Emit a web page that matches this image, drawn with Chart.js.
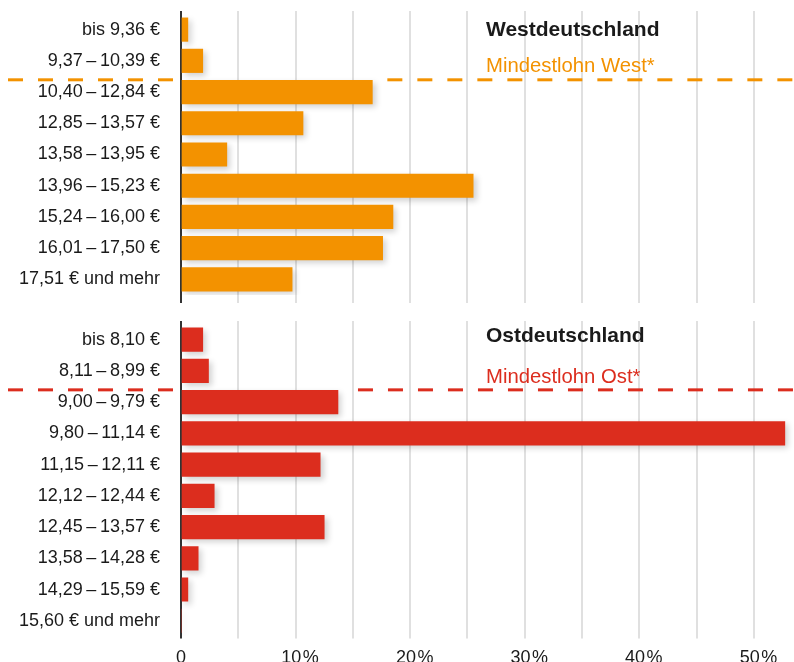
<!DOCTYPE html>
<html>
<head>
<meta charset="utf-8">
<script src="https://cdn.jsdelivr.net/npm/chart.js@4"></script>
<style>
  html, body { margin: 0; padding: 0; background: #fff; overflow: hidden; }
  #wrap { position: relative; width: 794px; height: 662px; overflow: hidden; }
  #west-box { position: absolute; left: 0; top: 0; width: 794px; height: 304px; }
  #ost-box { position: absolute; left: 0; top: 310px; width: 794px; height: 368px; }
</style>
</head>
<body>
<div id="wrap">
  <div id="west-box"><canvas id="west"></canvas></div>
  <div id="ost-box"><canvas id="ost"></canvas></div>
</div>
<script>
const westLabels = ['bis 9,36 €', '9,37\u2009–\u200910,39 €', '10,40\u2009–\u200912,84 €', '12,85\u2009–\u200913,57 €',
  '13,58\u2009–\u200913,95 €', '13,96\u2009–\u200915,23 €', '15,24\u2009–\u200916,00 €', '16,01\u2009–\u200917,50 €', '17,51 € und mehr'];
const westValues = [0.6, 1.9, 16.7, 10.65, 4.0, 25.5, 18.5, 17.6, 9.7];

const ostLabels = ['bis 8,10 €', '8,11\u2009–\u20098,99 €', '9,00\u2009–\u20099,79 €', '9,80\u2009–\u200911,14 €',
  '11,15\u2009–\u200912,11 €', '12,12\u2009–\u200912,44 €', '12,45\u2009–\u200913,57 €', '13,58\u2009–\u200914,28 €',
  '14,29\u2009–\u200915,59 €', '15,60 € und mehr'];
const ostValues = [1.9, 2.4, 13.7, 52.7, 12.15, 2.9, 12.5, 1.5, 0.6, 0];

// gridlines every 5 %, labels every 10 %
const tickValues = [0, 5, 10, 15, 20, 25, 30, 35, 40, 45, 50];
const xMax = 53.5;
const FONT = "'Liberation Sans', Arial, sans-serif";

// dashed minimum wage line sits on the top edge of the 3rd bar
const panelDeco = {
  id: 'panelDeco',
  beforeDatasetsDraw(chart, args, opts) {
    const ctx = chart.ctx;
    const bar = chart.getDatasetMeta(0).data[opts.lineIndex];
    const yy = bar.y - bar.height / 2 - 0.5;
    ctx.save();
    ctx.strokeStyle = opts.color;
    ctx.lineWidth = 3;
    ctx.setLineDash([15, 15]);
    ctx.beginPath();
    ctx.moveTo(8, yy);
    ctx.lineTo(175, yy);
    ctx.stroke();
    ctx.beginPath();
    ctx.moveTo(bar.x + opts.gap, yy);
    ctx.lineTo(chart.width, yy);
    ctx.stroke();
    ctx.restore();
  },
  afterDraw(chart, args, opts) {
    const ctx = chart.ctx;
    ctx.save();
    ctx.textAlign = 'left';
    ctx.textBaseline = 'alphabetic';
    ctx.fillStyle = '#1a1a1a';
    ctx.font = 'bold 21px ' + FONT;
    ctx.fillText(opts.title, 486, opts.titleY);
    ctx.fillStyle = opts.color;
    ctx.font = '20.3px ' + FONT;
    ctx.fillText(opts.sub, 486, opts.subY);
    ctx.restore();
  }
};

const barShadow = {
  id: 'barShadow',
  beforeDatasetDraw(chart) {
    const ctx = chart.ctx;
    ctx.save();
    ctx.shadowColor = 'rgba(0,0,0,0.18)';
    ctx.shadowBlur = 6;
    ctx.shadowOffsetX = 3;
    ctx.shadowOffsetY = 3;
  },
  afterDatasetDraw(chart) {
    chart.ctx.restore();
  }
};

const gridColor = c => (c.tick && c.tick.value === 0) ? '#333' : '#e0e0e0';

function makeChart(id, labels, values, color, deco, showTicks, tickLen, tickPad) {
  return new Chart(document.getElementById(id), {
    type: 'bar',
    data: {
      labels: labels,
      datasets: [{
        data: values,
        backgroundColor: color,
        borderWidth: 0,
        barThickness: 23.5
      }]
    },
    options: {
      indexAxis: 'y',
      responsive: true,
      maintainAspectRatio: false,
      animation: false,
      layout: { padding: { top: 11, right: 0, bottom: 0, left: 0 } },
      plugins: {
        legend: { display: false },
        tooltip: { enabled: false },
        panelDeco: deco
      },
      scales: {
        x: {
          min: 0,
          max: xMax,
          afterBuildTicks: s => { s.ticks = tickValues.map(v => ({ value: v })); },
          border: { display: false },
          grid: { color: gridColor, lineWidth: 2, drawTicks: true, tickLength: tickLen },
          ticks: {
            display: showTicks,
            padding: tickPad,
            maxRotation: 0,
            autoSkip: false,
            color: '#1a1a1a',
            font: { family: FONT, size: 18 },
            callback: v => v === 0 ? '0' : (v % 10 === 0 ? '\u2002' + v + '\u200a%' : '')
          }
        },
        // top stub so the gridlines reach a little above the first bar
        xTop: {
          position: 'top',
          min: 0,
          max: xMax,
          afterBuildTicks: s => { s.ticks = tickValues.map(v => ({ value: v })); },
          border: { display: false },
          grid: { color: gridColor, lineWidth: 2, drawOnChartArea: false, drawTicks: true, tickLength: 3 },
          ticks: { display: false }
        },
        y: {
          afterFit: s => { s.width = 181; },
          border: { display: true, color: '#333', width: 2 },
          // invisible tick marks give the gap between labels and axis
          grid: { display: true, drawOnChartArea: false, drawTicks: true, tickLength: 21, tickColor: 'rgba(0,0,0,0)' },
          ticks: {
            padding: 0,
            color: '#1a1a1a',
            font: { family: FONT, size: 18, lineHeight: 1 }
          }
        }
      }
    },
    plugins: [panelDeco, barShadow]
  });
}

makeChart('west', westLabels, westValues, '#f39200',
  { title: 'Westdeutschland', sub: 'Mindestlohn West*', color: '#f39200', titleY: 36, subY: 72, lineIndex: 2, gap: 15 },
  false, 8, 6);

makeChart('ost', ostLabels, ostValues, '#dc2d1e',
  { title: 'Ostdeutschland', sub: 'Mindestlohn Ost*', color: '#dc2d1e', titleY: 32, subY: 73, lineIndex: 2, gap: 20 },
  true, 2, 9);
</script>
</body>
</html>
